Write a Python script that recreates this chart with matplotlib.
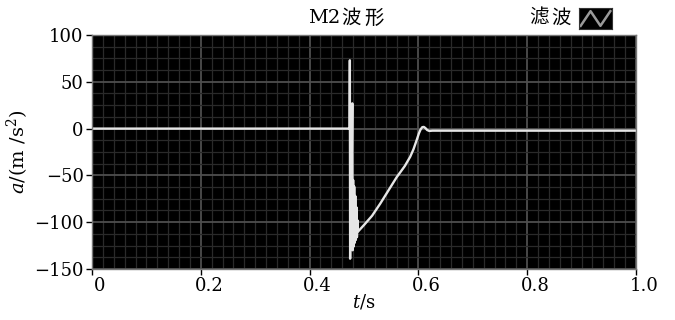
import matplotlib
matplotlib.use("Agg")
import matplotlib.pyplot as plt
import matplotlib.transforms as mtransforms
from matplotlib.ticker import MultipleLocator

# ---- data ----
t_vals = [0.0, 0.4735, 0.4740, 0.4745, 0.4760, 0.4770, 0.4785, 0.4790,
          0.4800, 0.4810, 0.4820, 0.4830, 0.4840, 0.4850, 0.4860, 0.4870,
          0.4880, 0.4890, 0.500, 0.515, 0.530, 0.545, 0.560, 0.575,
          0.585, 0.591, 0.597, 0.601, 0.604, 0.607, 0.610, 0.613,
          0.616, 0.620, 0.626, 1.0]
a_vals = [0.0, 0.0, 73.0, -139.0, 5.0, -60.0, 27.0, -130.0,
          -55.0, -126.0, -62.0, -122.0, -72.0, -119.0, -84.0, -116.0,
          -98.0, -110.0, -103.0, -93.0, -80.0, -66.0, -52.0, -40.0,
          -30.0, -22.0, -12.0, -5.0, -1.0, 1.5, 1.8, 0.5,
          -1.5, -2.5, -2.2, -2.2]
x_ticks = [0, 0.2, 0.4, 0.6, 0.8, 1.0]
x_tick_labels = ["0", "0.2", "0.4", "0.6", "0.8", "1.0"]
y_ticks = [-150, -100, -50, 0, 50, 100]
y_tick_labels = ["\u2212150", "\u2212100", "\u221250", "0", "50", "100"]

plt.rcParams['font.family'] = ['DejaVu Serif', 'Noto Sans CJK SC']
plt.rcParams['mathtext.fontset'] = 'dejavuserif'

fig = plt.figure(figsize=(6.75, 3.2), dpi=100)
fig.patch.set_facecolor('white')
ax = fig.add_axes([92/675, 1-269/320, (636-92)/675, (269-35)/320])
ax.set_facecolor('black')

ax.set_xlim(0, 1.0)
ax.set_ylim(-150, 100)

ax.xaxis.set_major_locator(MultipleLocator(0.2))
ax.xaxis.set_minor_locator(MultipleLocator(0.02))
ax.yaxis.set_major_locator(MultipleLocator(50))
ax.yaxis.set_minor_locator(MultipleLocator(12.5))
ax.grid(which='minor', color='#2a2a2a', linewidth=0.9)
ax.grid(which='major', color='#4e4e4e', linewidth=1.3)
ax.set_axisbelow(True)

ax.plot(t_vals, a_vals, color='#e6e6e6', linewidth=1.7)

ax.set_xticks(x_ticks)
ax.set_xticklabels(x_tick_labels)
ax.set_yticks(y_ticks)
ax.set_yticklabels(y_tick_labels)
ax.tick_params(which='minor', length=0)
ax.tick_params(which='major', direction='out', length=4, width=1, labelsize=13, colors='black', pad=2)

offset = mtransforms.ScaledTranslation(8/100, 0, fig.dpi_scale_trans)
for lbl in ax.get_xticklabels():
    lbl.set_transform(lbl.get_transform() + offset)

for s in ax.spines.values():
    s.set_color('#777777')
    s.set_linewidth(1.0)

ax.set_xlabel(r'$t$/s', fontsize=13, labelpad=-2)
ax.set_ylabel(r'$a$/(m /s$^2$)', fontsize=14, labelpad=2)

ty = 1 - 18/320
fig.text(324/675, ty, 'M2', fontsize=14, ha='center', va='center')
fig.text(351/675, ty, '波', fontsize=14, ha='center', va='center', family=['Noto Sans CJK SC'])
fig.text(374/675, ty, '形', fontsize=14, ha='center', va='center', family=['Noto Sans CJK SC'])
fig.text(539/675, ty, '滤', fontsize=14, ha='center', va='center', family=['Noto Sans CJK SC'])
fig.text(561/675, ty, '波', fontsize=14, ha='center', va='center', family=['Noto Sans CJK SC'])

# legend icon
iax = fig.add_axes([579/675, 1-29/320, 33/675, 21/320])
iax.set_facecolor('black')
iax.set_xlim(0, 1); iax.set_ylim(0, 1)
iax.plot([0.05, 0.35, 0.65, 0.95], [0.15, 0.85, 0.15, 0.85], color='#9a9a9a', linewidth=1.8)
iax.set_xticks([]); iax.set_yticks([])
for s in iax.spines.values():
    s.set_color('#333333')

fig.savefig('out.png', dpi=100, facecolor='white')
